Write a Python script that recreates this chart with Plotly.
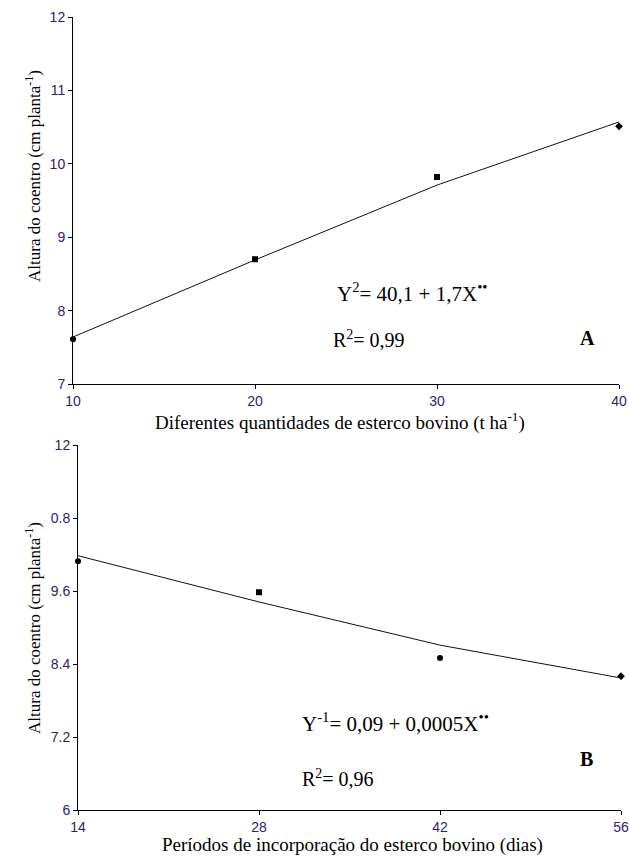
import plotly.graph_objects as go

# ---- Panel A data ----
a_x = [10, 20, 30, 40]
a_obs = [7.61, 8.70, 9.82, 10.51]
a_fit_x = [10, 20, 30, 40]
a_fit = [7.64, 8.69, 9.71, 10.57]
a_yticks = [7, 8, 9, 10, 11, 12]
a_yticktext = ["7", "8", "9", "10", "11", "12"]
a_xticks = [10, 20, 30, 40]

# ---- Panel B data ----
b_x = [14, 28, 42, 56]
b_obs = [10.09, 9.58, 8.50, 8.20]
b_fit_x = [14, 28, 42, 56]
b_fit = [10.18, 9.42, 8.71, 8.17]
b_yticks = [6, 7.2, 8.4, 9.6, 10.8, 12]
b_yticktext = ["6", "7.2", "8.4", "9.6", "0.8", "12"]
b_xticks = [14, 28, 42, 56]

W, H = 629, 856
def px_x(p):
    return p / W
def px_y(p):
    return 1 - p / H

fig = go.Figure()

fig.add_trace(go.Scatter(x=a_fit_x, y=a_fit, mode="lines", line=dict(color="#111", width=1),
                         xaxis="x", yaxis="y", showlegend=False, cliponaxis=False))
fig.add_trace(go.Scatter(x=a_x, y=a_obs, mode="markers",
                         marker=dict(color="black", size=6, symbol=["circle", "square", "square", "diamond"]),
                         xaxis="x", yaxis="y", showlegend=False, cliponaxis=False))
fig.add_trace(go.Scatter(x=b_fit_x, y=b_fit, mode="lines", line=dict(color="#111", width=1),
                         xaxis="x2", yaxis="y2", showlegend=False, cliponaxis=False))
fig.add_trace(go.Scatter(x=b_x, y=b_obs, mode="markers",
                         marker=dict(color="black", size=6, symbol=["circle", "square", "circle", "diamond"]),
                         xaxis="x2", yaxis="y2", showlegend=False, cliponaxis=False))

tickfont = dict(family="Liberation Sans, Arial", size=14, color="#30226a")
axis_common = dict(showgrid=False, zeroline=False, showline=True, linecolor="black", linewidth=1,
                   ticks="outside", ticklen=4, tickcolor="black", tickfont=tickfont, mirror=False,
                   automargin=False, ticklabeloverflow="allow")

fig.update_layout(
    template="none",
    width=W, height=H,
    margin=dict(l=0, r=0, t=0, b=0, pad=0),
    paper_bgcolor="white", plot_bgcolor="white",
    xaxis=dict(domain=[px_x(73), px_x(619)], range=[10, 40], tickvals=a_xticks, anchor="y", **axis_common),
    yaxis=dict(domain=[px_y(384), px_y(17)], range=[7, 12], tickvals=a_yticks, ticktext=a_yticktext,
               anchor="x", **axis_common),
    xaxis2=dict(domain=[px_x(78), px_x(621)], range=[14, 56], tickvals=b_xticks, anchor="y2", **axis_common),
    yaxis2=dict(domain=[px_y(810), px_y(445)], range=[6, 12], tickvals=b_yticks, ticktext=b_yticktext,
                anchor="x2", **axis_common),
)

serif = "Liberation Serif, Times New Roman, serif"
def ann(text, x, y, size=16, angle=0, xanchor="center", bold=False):
    fig.add_annotation(text=(f"<b>{text}</b>" if bold else text), x=px_x(x), y=px_y(y), xref="paper", yref="paper",
                       showarrow=False, textangle=angle, xanchor=xanchor, yanchor="middle",
                       font=dict(family=serif, size=size, color="black"))

# axis titles
ann("Altura do coentro (cm planta<sup>-1</sup>)", 33, 176, size=17, angle=-90)
ann("Diferentes quantidades de esterco bovino (t ha<sup>-1</sup>)", 340, 421, size=19)
ann("Altura do coentro (cm planta<sup>-1</sup>)", 33, 628, size=17, angle=-90)
ann("Períodos de incorporação do esterco bovino (dias)", 352, 845, size=19)

# equations
ann("Y<sup>2</sup>= 40,1 + 1,7X<sup>••</sup>", 335, 292, size=21, xanchor="left")
ann("R<sup>2</sup>= 0,99", 331, 339, size=20, xanchor="left")
ann("A", 587, 338, size=20, bold=True)
ann("Y<sup>-1</sup>= 0,09 + 0,0005X<sup>••</sup>", 300, 722, size=21, xanchor="left")
ann("R<sup>2</sup>= 0,96", 300, 778, size=20, xanchor="left")
ann("B", 586, 759, size=20, bold=True)

fig.write_html("out.html", config={"displayModeBar": False},
               post_script="document.body.style.margin='0';document.body.style.padding='0';document.body.style.overflow='hidden';")
